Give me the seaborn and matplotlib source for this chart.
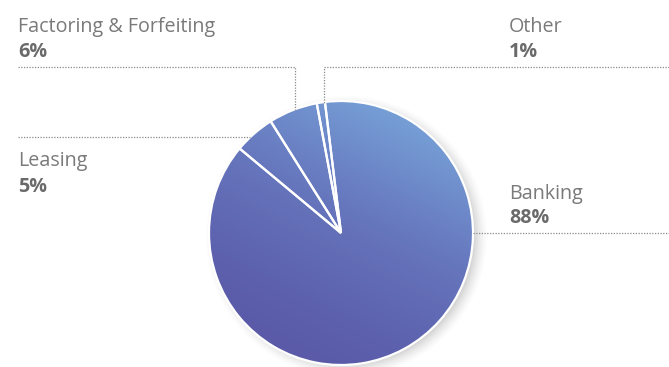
import numpy as np
import matplotlib
matplotlib.use("Agg")
import matplotlib.pyplot as plt
import seaborn as sns
from matplotlib.patches import Circle
from matplotlib.colors import LinearSegmentedColormap

sns.set_theme(style="white")
plt.rcParams["font.family"] = ["Open Sans", "DejaVu Sans"]

# Revenue split by business line
segments = ["Other", "Factoring & Forfeiting", "Leasing", "Banking"]
shares = [1, 6, 5, 88]
share_labels = ["1%", "6%", "5%", "88%"]

W, H = 669, 367
fig = plt.figure(figsize=(W / 100, H / 100), dpi=100)
ax = fig.add_axes([0, 0, 1, 1])
ax.axis("off")

cx, cy, R = 341, H - 233, 132

# soft drop shadow
yy, xx = np.mgrid[0:H, 0:W]
d = np.hypot(xx - (cx + 5), (H - yy) - (cy - 3))
sh = np.clip((R + 10 - d) / 18, 0, 1) ** 1.5 * 0.35
shadow = np.zeros((H, W, 4))
shadow[..., :3] = 0.35
shadow[..., 3] = sh
ax.imshow(shadow, extent=[0, W, 0, H], origin="upper", zorder=1, interpolation="bilinear")

wedges, _ = ax.pie(shares, center=(cx, cy), radius=R, startangle=97,
                   counterclock=True, colors=["#6a84c6"] * len(shares),
                   frame=True,
                   wedgeprops=dict(edgecolor="white", linewidth=1.6))
for w in wedges:
    w.set_zorder(3)
    w.set_facecolor("none")

# gradient fill of the disc
cmap = LinearSegmentedColormap.from_list("blu", ["#5a5aa8", "#6676bd", "#769fd6"])
gx = np.linspace(cx - R, cx + R, 300)
gy = np.linspace(cy + R, cy - R, 300)
GX, GY = np.meshgrid(gx, gy)
ux, uy = 0.45, 0.89
t = ((GX - cx) * ux + (GY - cy) * uy) / R
t = np.clip((t + 1.0) / 2.0, 0, 1) ** 1.3
img = ax.imshow(t, cmap=cmap, extent=[cx - R, cx + R, cy - R, cy + R],
                origin="upper", zorder=2, interpolation="bilinear", vmin=0, vmax=1)
clip = Circle((cx, cy), R, transform=ax.transData)
img.set_clip_path(clip)

# leader lines
lc = "#8a8a8a"
lk = dict(color=lc, linestyle=(0, (1, 1.2)), linewidth=0.9, zorder=4)
ax.plot([18, 295, 295], [H - 67, H - 67, H - 110], **lk)
ax.plot([18, 250], [H - 137, H - 137], **lk)
ax.plot([669, 324, 324], [H - 67, H - 67, H - 103], **lk)
ax.plot([473, 669], [H - 233, H - 233], **lk)

tc = "#7a7a7a"
bc = "#6a6a6a"
fs = 14.2
positions = {
    "Other": (509, 31.7, 56.7),
    "Factoring & Forfeiting": (18, 31.7, 56.7),
    "Leasing": (18, 166, 191.7),
    "Banking": (509, 199.3, 222.7),
}
for name, lab in zip(segments, share_labels):
    x, y1, y2 = positions[name]
    ax.text(x, H - y1, name, fontsize=fs, color=tc, va="baseline", ha="left")
    ax.text(x, H - y2, lab, fontsize=fs, color=bc, fontweight="bold",
            va="baseline", ha="left")

ax.set_xlim(0, W)
ax.set_ylim(0, H)
ax.set_aspect("equal")
ax.axis("off")

fig.savefig("out.png", dpi=100)
